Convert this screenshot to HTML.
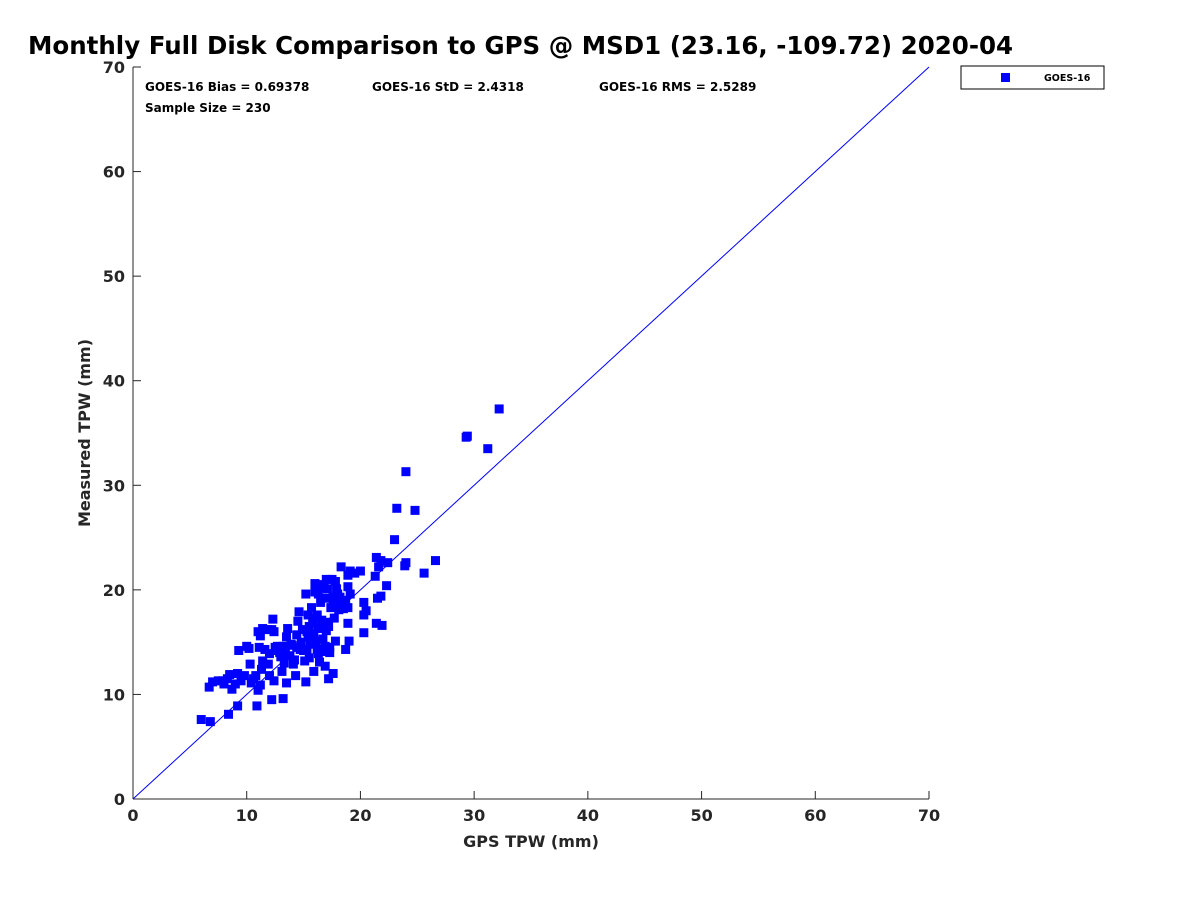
<!DOCTYPE html>
<html><head><meta charset="utf-8"><style>
html,body{margin:0;padding:0;background:#fff;width:1200px;height:900px;overflow:hidden}
svg{font-family:"DejaVu Sans","Liberation Sans",sans-serif}
</style></head><body>
<svg id="chart" width="1200" height="900">
<text x="28" y="54" font-size="24.5" font-weight="bold" fill="#000">Monthly Full Disk Comparison to GPS @ MSD1 (23.16, -109.72) 2020-04</text>
<rect x="133" y="67" width="796" height="732" fill="#fff" stroke="none"/>
<g id="axes"></g>
<g id="points"></g>
<text x="145" y="91" font-size="12" font-weight="bold">GOES-16 Bias = 0.69378</text>
<text x="372" y="91" font-size="12" font-weight="bold">GOES-16 StD = 2.4318</text>
<text x="599" y="91" font-size="12" font-weight="bold">GOES-16 RMS = 2.5289</text>
<text x="145" y="112" font-size="12" font-weight="bold">Sample Size = 230</text>
<g>
<rect x="961" y="66" width="143" height="23" fill="#fff" stroke="#000" stroke-width="1"/>
<rect x="1001" y="73" width="9" height="9" fill="#0000ff"/>
<text x="1044" y="81" font-size="9.5" font-weight="bold">GOES-16</text>
</g>
<text x="531" y="847" font-size="16" font-weight="bold" text-anchor="middle" fill="#262626">GPS TPW (mm)</text>
<text transform="translate(90,433) rotate(-90)" font-size="16" font-weight="bold" text-anchor="middle" fill="#262626">Measured TPW (mm)</text>
</svg>
<script>
const xTicks=[0,10,20,30,40,50,60,70];
const yTicks=[0,10,20,30,40,50,60,70];
const gpsValues=[32.2,29.3,29.4,31.2,24,23.2,24.8,23,26.6,25.6,24,23.9,22.4,22.3,21.8,21.4,21.6,21.3,21.5,21.8,21.4,21.9,20.5,20.3,20.3,20,19.1,18.9,18.3,18.9,19.1,18.7,18.5,18.9,19,18.7,17.6,17.2,16.9,15.9,15.2,14.3,13.5,13.2,12.2,10.9,9.2,8.4,6,6.8,6.7,7,7.5,8,8.3,8.5,8.7,9,9.2,9.5,9.3,10,10.3,10.4,10.6,10.8,11,11.2,11.3,11.4,11.1,11,11.4,11.2,11.8,12.3,12.4,11.6,12,12.5,12.9,12.4,12,13.1,13.3,13.5,13.6,13.2,13.8,14,14.2,14.4,14.5,14.6,14.8,15,15.2,15.3,15.4,15.5,15.6,15.7,15.8,15.9,16,16,16.1,16.2,16.3,16.5,16.6,16.7,16.8,16.9,17,17.1,17.2,17.3,17.4,17.5,17.6,17.7,17.8,17.9,18,18.1,16.4,15.1,14.1,13,12.7,10.2,9.8,7.9,15.5,16.2,14.9,15.7,16.6,17.1,15.9,15.3,14.4,13.9,12.6,11.9,17.8,18.2,16.5,16.3,17.6,16.8,15.4,14.7,12.2,13.4,18.3,18.9,19.5,20.3,17.3,16.9,16.3,17];
const measuredValues=[37.3,34.6,34.7,33.5,31.3,27.8,27.6,24.8,22.8,21.6,22.6,22.3,22.6,20.4,22.8,23.1,22.2,21.3,19.2,19.4,16.8,16.6,18,17.6,15.9,21.8,21.8,21.4,22.2,20.3,19.6,19,18.2,16.8,15.1,14.3,12,11.5,12.7,12.2,11.2,11.8,11.1,9.6,9.5,8.9,8.9,8.1,7.6,7.4,10.7,11.2,11.3,11,11.5,11.9,10.5,11,12,11.3,14.2,14.6,12.9,11.1,11.5,11.8,10.4,10.9,12.4,13.2,14.5,16,16.3,15.6,16.2,17.2,16,14.3,13.9,14.5,14,11.3,11.8,12.2,13,15.5,16.3,14.6,13.7,14.7,13.3,14.5,17,17.9,15,14.2,19.6,16,15.5,13.5,14.8,18.3,16.8,15.8,20.6,19.8,15.1,14.3,16.4,20.5,17.1,15.3,14.1,19.2,21,20.1,16.5,14.5,18.3,21,19.3,17.3,15.1,20.1,19.6,18.1,13.1,13.2,12.9,13.6,14.6,14.4,11.8,11.3,16.5,17.6,16.2,15.2,16.3,16.9,17.3,14.3,15.7,14.8,14.2,12.9,20.8,19.3,18.8,19.6,18.6,20.2,17.6,14.3,16.2,13.9,18.5,18.3,21.6,18.8,14,14.6,13.9,16.1];
const X0=133,X1=929,Y0=799,Y1=67,MAX=70;
const sx=v=>X0+(v/MAX)*(X1-X0);
const sy=v=>Y0-(v/MAX)*(Y0-Y1);
const NS="http://www.w3.org/2000/svg";
function mk(t,a){const e=document.createElementNS(NS,t);for(const k in a)e.setAttribute(k,a[k]);return e;}
const axes=document.getElementById('axes');
const xl=mk('line',{x1:X0,y1:Y0,x2:X1,y2:Y0,stroke:'#262626','stroke-width':1});


axes.appendChild(xl);
const yl=mk('line',{x1:X0,y1:Y0,x2:X0,y2:Y1,stroke:'#262626','stroke-width':1});


axes.appendChild(yl);
xTicks.forEach(v=>{
  const t=mk('line',{x1:sx(v),y1:Y0,x2:sx(v),y2:Y0-8,stroke:'#262626'});
  
  
  axes.appendChild(t);
  const l=mk('text',{x:sx(v),y:Y0+22,'font-size':16,'font-weight':'bold','text-anchor':'middle',fill:'#262626'});
  l.textContent=v;
  
  
  axes.appendChild(l);
});
yTicks.forEach(v=>{
  const t=mk('line',{x1:X0,y1:sy(v),x2:X0+8,y2:sy(v),stroke:'#262626'});
  
  
  axes.appendChild(t);
  const l=mk('text',{x:X0-8,y:sy(v)+6,'font-size':16,'font-weight':'bold','text-anchor':'end',fill:'#262626'});
  l.textContent=v;
  
  
  axes.appendChild(l);
});
const ref=mk('line',{x1:sx(0),y1:sy(0),x2:sx(MAX),y2:sy(MAX),stroke:'#0000ff','stroke-width':1});


axes.appendChild(ref);
const pts=document.getElementById('points');
gpsValues.forEach((g,i)=>{
  const r=mk('rect',{x:sx(g)-4.5,y:sy(measuredValues[i])-4.5,width:9,height:9,fill:'#0000ff'});
  
  
  pts.appendChild(r);
});
</script>
</body></html>
